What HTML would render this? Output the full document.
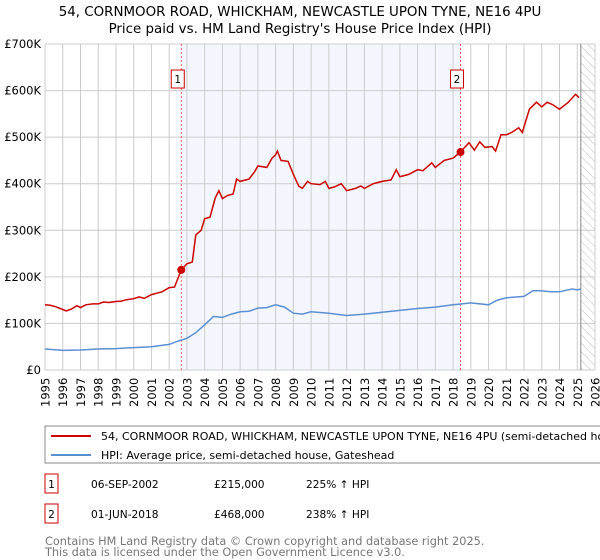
<!DOCTYPE html>
<html><head><meta charset="utf-8">
<style>
body{margin:0;width:600px;height:560px;overflow:hidden;background:#fff;font-family:"DejaVu Sans","Liberation Sans",sans-serif;}
svg{position:absolute;left:0;top:0}
</style></head><body>
<svg width="600" height="560" viewBox="0 0 600 560">
<defs><pattern id="hatch" width="6" height="6" patternUnits="userSpaceOnUse" patternTransform="rotate(-45)"><line x1="0" y1="0" x2="0" y2="6" stroke="#bbb" stroke-width="1"/></pattern></defs>
<g id="plot"></g>
<text x="300" y="16" text-anchor="middle" font-size="13.4" fill="#000">54, CORNMOOR ROAD, WHICKHAM, NEWCASTLE UPON TYNE, NE16 4PU</text>
<text x="300" y="33" text-anchor="middle" font-size="13.4" fill="#000">Price paid vs. HM Land Registry's House Price Index (HPI)</text>
<g>
<rect x="45" y="426" width="570" height="37" fill="#fff" stroke="#888"/>
<line x1="51" y1="436" x2="91" y2="436" stroke="#cc0000" stroke-width="2"/>
<text x="101" y="440" font-size="11">54, CORNMOOR ROAD, WHICKHAM, NEWCASTLE UPON TYNE, NE16 4PU (semi-detached house)</text>
<line x1="51" y1="455" x2="91" y2="455" stroke="#5b8fd4" stroke-width="2"/>
<text x="101" y="459" font-size="11">HPI: Average price, semi-detached house, Gateshead</text>
</g>
<g font-size="10.6">
<rect x="45" y="474" width="13" height="19" fill="#fff" stroke="#cc0000"/><text x="51.5" y="488" text-anchor="middle">1</text>
<text x="91" y="488">06-SEP-2002</text><text x="214" y="488">£215,000</text><text x="306" y="488">225% ↑ HPI</text>
<rect x="45" y="504" width="13" height="19" fill="#fff" stroke="#cc0000"/><text x="51.5" y="518" text-anchor="middle">2</text>
<text x="91" y="518">01-JUN-2018</text><text x="214" y="518">£468,000</text><text x="306" y="518">238% ↑ HPI</text>
</g>
<text x="45" y="545" font-size="11.3" fill="#777">Contains HM Land Registry data © Crown copyright and database right 2025.</text>
<text x="45" y="556" font-size="11.3" fill="#777">This data is licensed under the Open Government Licence v3.0.</text>
</svg>
<script>
const yTicks=[0,100,200,300,400,500,600,700];
const yTickLabels=["£0","£100K","£200K","£300K","£400K","£500K","£600K","£700K"];
const xYears=[1995,1996,1997,1998,1999,2000,2001,2002,2003,2004,2005,2006,2007,2008,2009,2010,2011,2012,2013,2014,2015,2016,2017,2018,2019,2020,2021,2022,2023,2024,2025,2026];
const saleDates=[2002.68,2018.42];
const salePrices=[215,468];
const dataEnd=2025.2;
const redT=[1995,1995.3,1995.6,1996,1996.2,1996.5,1996.8,1997,1997.3,1997.7,1998,1998.3,1998.6,1999,1999.3,1999.6,2000,2000.3,2000.6,2001,2001.3,2001.6,2002,2002.3,2002.68,2003,2003.3,2003.5,2003.8,2004,2004.3,2004.6,2004.8,2005,2005.3,2005.6,2005.8,2006,2006.5,2006.8,2007,2007.5,2007.8,2008,2008.1,2008.3,2008.7,2009,2009.3,2009.5,2009.8,2010,2010.5,2010.8,2011,2011.3,2011.7,2012,2012.5,2012.8,2013,2013.5,2014,2014.5,2014.8,2015,2015.5,2016,2016.3,2016.8,2017,2017.5,2018,2018.42,2018.9,2019.2,2019.5,2019.8,2020.2,2020.4,2020.7,2021,2021.3,2021.7,2021.9,2022.3,2022.7,2023,2023.3,2023.6,2024,2024.5,2024.9,2025.1];
const redV=[140,139,136,130,127,131,138,134,140,142,142,146,145,147,148,151,153,157,154,162,165,168,177,178,215,228,232,290,300,325,328,370,385,368,375,378,410,405,410,425,438,435,455,462,470,450,448,420,395,390,405,400,398,405,390,393,400,385,390,395,390,400,405,408,430,415,420,430,428,445,435,450,455,468,488,472,490,478,480,470,505,505,510,520,510,560,575,565,575,570,560,575,592,585];
const blueT=[1995,1996,1997,1998,1999,2000,2001,2002,2002.5,2003,2003.5,2004,2004.5,2005,2005.5,2006,2006.5,2007,2007.5,2008,2008.5,2009,2009.5,2010,2011,2012,2013,2014,2015,2016,2017,2018,2018.5,2019,2020,2020.5,2021,2022,2022.5,2023,2023.5,2024,2024.7,2025,2025.2];
const blueV=[45,42,43,45,46,48,50,55,62,68,80,97,115,113,120,125,126,133,134,140,135,122,120,125,122,117,120,124,128,132,135,140,142,144,140,150,155,158,170,170,168,168,174,172,174];
const L=45,R=595,T=44,B=370;
const xs=v=>L+(v-1995)/(2026-1995)*(R-L);
const ys=v=>B-v/700*(B-T);
const NS="http://www.w3.org/2000/svg";
const g=document.getElementById('plot');
function mk(tag,attrs){const e=document.createElementNS(NS,tag);for(const k in attrs)e.setAttribute(k,attrs[k]);g.appendChild(e);return e;}
let e;
e=mk('rect',{x:xs(saleDates[0]),y:T,width:xs(saleDates[1])-xs(saleDates[0]),height:B-T,fill:'#eef3fc',opacity:0.7});


e=mk('rect',{x:xs(dataEnd),y:T,width:R-xs(dataEnd),height:B-T,fill:'url(#hatch)'});


xYears.forEach(y=>{
 e=mk('line',{x1:xs(y),y1:T,x2:xs(y),y2:B,stroke:'#ccc','stroke-width':1});
 
 
 e=mk('text',{x:0,y:0,transform:`translate(${xs(y)+4.5},${B+37}) rotate(-90)`,'font-size':11.5});
 e.textContent=y;
 
 
});
yTicks.forEach((v,i)=>{
 e=mk('line',{x1:L,y1:ys(v),x2:R,y2:ys(v),stroke:'#ccc','stroke-width':1});
 
 
 e=mk('text',{x:L-4,y:ys(v)+4,'text-anchor':'end','font-size':11.5});
 e.textContent=yTickLabels[i];
 
 
});
e=mk('line',{x1:xs(dataEnd),y1:T,x2:xs(dataEnd),y2:B,stroke:'#888','stroke-width':1});


saleDates.forEach((d,i)=>{
 e=mk('line',{x1:xs(d),y1:T,x2:xs(d),y2:B,stroke:'#e55','stroke-width':1,'stroke-dasharray':'2,2'});
 
 
 e=mk('rect',{x:xs(d)-10,y:70,width:13,height:18,fill:'#fff',stroke:'#cc0000'});
 
 
 e=mk('text',{x:xs(d)-3.5,y:83,'text-anchor':'middle','font-size':10.5});
 e.textContent=String(i+1);
 
 
});
function pts(t,v){return t.map((x,i)=>xs(x).toFixed(1)+','+ys(v[i]).toFixed(1)).join(' ');}
e=mk('polyline',{points:pts(blueT,blueV),fill:'none',stroke:'#5b8fd4','stroke-width':1.5});


e=mk('polyline',{points:pts(redT,redV),fill:'none',stroke:'#cc0000','stroke-width':1.5});


saleDates.forEach((d,i)=>{
 e=mk('circle',{cx:xs(d),cy:ys(salePrices[i]),r:4,fill:'#cc0000'});
 
 
});
</script>
</body></html>
